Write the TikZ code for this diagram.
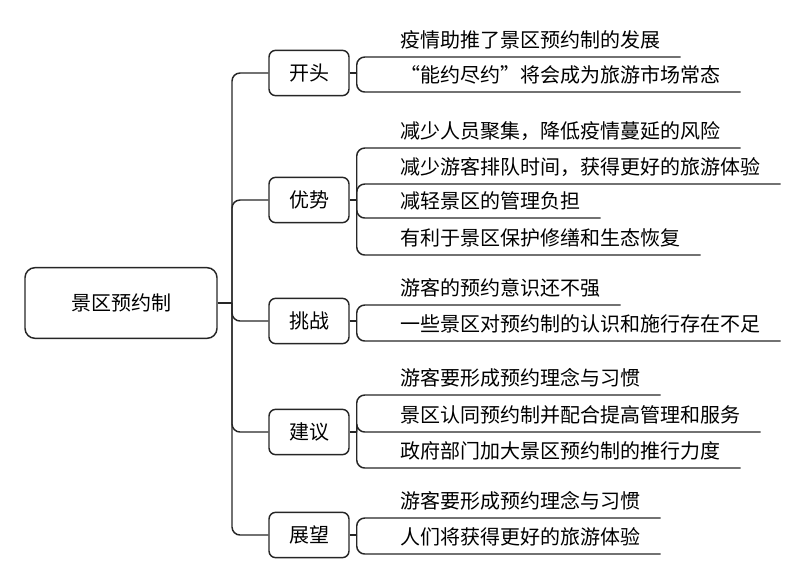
\documentclass[tikz,border=0pt]{standalone}
\usepackage{fontspec}
\setmainfont{Noto Sans CJK SC}

\begin{document}
\begin{tikzpicture}[
    x=0.75pt, y=-0.75pt,
    every node/.style={font=\fontsize{15pt}{18pt}\selectfont},
    link/.style={draw=black!85, line width=1.1pt, rounded corners=6pt},
    root/.style={draw=black!85, line width=1.1pt, rounded corners=7.5pt, minimum width=144pt, minimum height=53pt},
    topic/.style={draw=black!85, line width=1.1pt, rounded corners=5pt, minimum width=60pt, minimum height=34pt},
    leaf/.style={anchor=west, inner sep=0pt}
  ]
  \useasboundingbox (0,0) rectangle (808,583);

  \node[root] (zq) at (121,303) {景区预约制};
  \coordinate (hub) at (232,303);

  \node[topic] (kt) at (309,73) {开头};
  \node[topic] (ys) at (309,200) {优势};
  \node[topic] (tz) at (309,321) {挑战};
  \node[topic] (jy) at (309,432) {建议};
  \node[topic] (zw) at (309,535) {展望};

  \node[leaf] (kt1) at (400,40) {疫情助推了景区预约制的发展};
  \node[leaf] (kt2) at (400,75) {“能约尽约”将会成为旅游市场常态};
  \node[leaf] (ys1) at (400,131) {减少人员聚集，降低疫情蔓延的风险};
  \node[leaf] (ys2) at (400,167) {减少游客排队时间，获得更好的旅游体验};
  \node[leaf] (ys3) at (400,201) {减轻景区的管理负担};
  \node[leaf] (ys4) at (400,238) {有利于景区保护修缮和生态恢复};
  \node[leaf] (tz1) at (400,288) {游客的预约意识还不强};
  \node[leaf] (tz2) at (400,324) {一些景区对预约制的认识和施行存在不足};
  \node[leaf] (jy1) at (400,378) {游客要形成预约理念与习惯};
  \node[leaf] (jy2) at (400,415) {景区认同预约制并配合提高管理和服务};
  \node[leaf] (jy3) at (400,451) {政府部门加大景区预约制的推行力度};
  \node[leaf] (zw1) at (400,501) {游客要形成预约理念与习惯};
  \node[leaf] (zw2) at (400,537) {人们将获得更好的旅游体验};

  \draw[link] (zq.east) -- (hub);
  \draw[link] (hub) |- (kt.west);
  \draw[link] (hub) |- (ys.west);
  \draw[link] (hub) |- (tz.west);
  \draw[link] (hub) |- (jy.west);
  \draw[link] (hub) |- (zw.west);

  \draw[link] (kt.east) -- ++(7,0) coordinate (ktj);
  \draw[link] (ys.east) -- ++(7,0) coordinate (ysj);
  \draw[link] (tz.east) -- ++(7,0) coordinate (tzj);
  \draw[link] (jy.east) -- ++(7,0) coordinate (jyj);
  \draw[link] (zw.east) -- ++(7,0) coordinate (zwj);

  \draw[link] (ktj) |- ([shift={(20,17)}]kt1.east);
  \draw[link] (ktj) |- ([shift={(20,17)}]kt2.east);
  \draw[link] (ysj) |- ([shift={(20,17)}]ys1.east);
  \draw[link] (ysj) |- ([shift={(20,17)}]ys2.east);
  \draw[link] (ysj) |- ([shift={(20,17)}]ys3.east);
  \draw[link] (ysj) |- ([shift={(20,17)}]ys4.east);
  \draw[link] (tzj) |- ([shift={(20,17)}]tz1.east);
  \draw[link] (tzj) |- ([shift={(20,17)}]tz2.east);
  \draw[link] (jyj) |- ([shift={(20,17)}]jy1.east);
  \draw[link] (jyj) |- ([shift={(20,17)}]jy2.east);
  \draw[link] (jyj) |- ([shift={(20,17)}]jy3.east);
  \draw[link] (zwj) |- ([shift={(20,17)}]zw1.east);
  \draw[link] (zwj) |- ([shift={(20,17)}]zw2.east);
\end{tikzpicture}
\end{document}
